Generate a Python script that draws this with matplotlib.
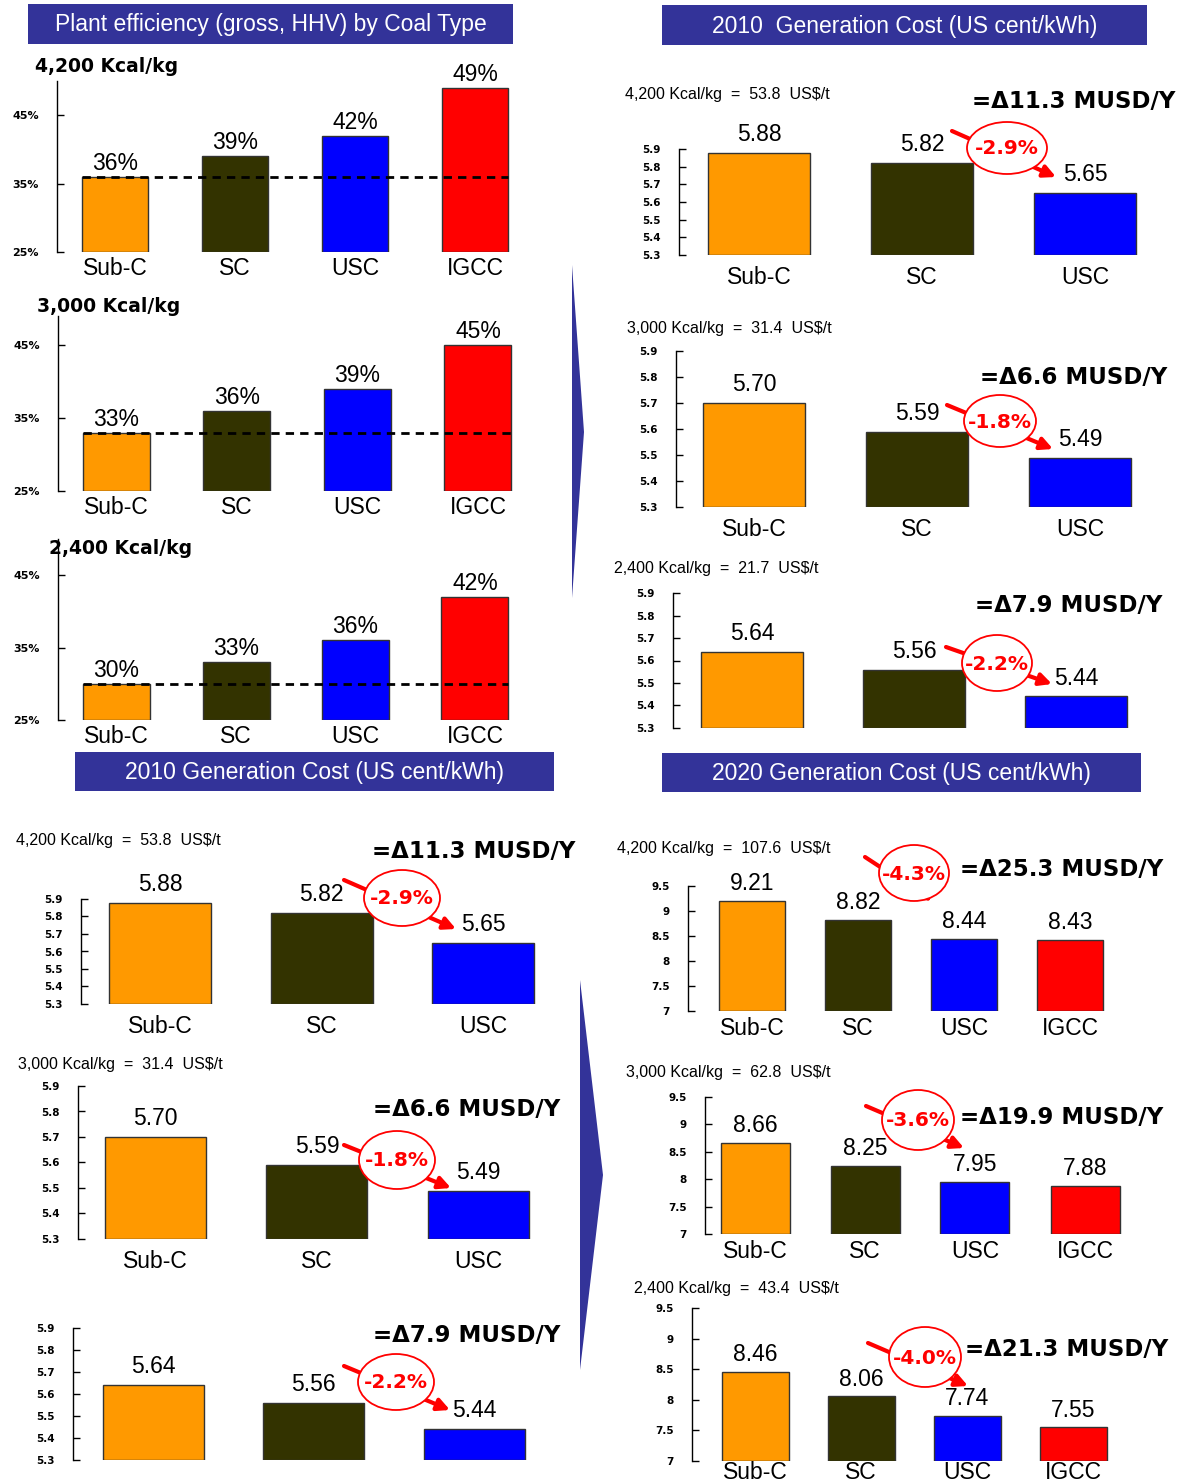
import numpy as np
import matplotlib
matplotlib.use("Agg")
import matplotlib.pyplot as plt
from matplotlib.patches import Rectangle, Ellipse, Polygon

# ---- data ----
coal_types = ["4,200 Kcal/kg", "3,000 Kcal/kg", "2,400 Kcal/kg"]
cats3 = ["Sub-C", "SC", "USC"]
cats4 = ["Sub-C", "SC", "USC", "IGCC"]
efficiency = [[36, 39, 42, 49], [33, 36, 39, 45], [30, 33, 36, 42]]
price_2010 = [53.8, 31.4, 21.7]
price_2020 = [107.6, 62.8, 43.4]
cost_2010 = [[5.88, 5.82, 5.65], [5.70, 5.59, 5.49], [5.64, 5.56, 5.44]]
cost_2020 = [[9.21, 8.82, 8.44, 8.43], [8.66, 8.25, 7.95, 7.88], [8.46, 8.06, 7.74, 7.55]]
cut_2010 = ["-2.9%", "-1.8%", "-2.2%"]
cut_2020 = ["-4.3%", "-3.6%", "-4.0%"]
saving_2010 = [11.3, 6.6, 7.9]
saving_2020 = [25.3, 19.9, 21.3]

colors = ["#FF9900", "#333300", "#0000FF", "#FF0000"]
NAVY = "#333399"
LABEL_FONT = ["Liberation Sans", "DejaVu Sans"]
W, H = 1184, 1483

fig = plt.figure(figsize=(W / 100, H / 100), dpi=100)


def bar_panel(L, R, top, bot, ylim, c0, d, bw, vals, labels, cats, yticks, yticklabels,
              gap=4, catpad=4, tick_fs=7):
    ax = fig.add_axes([L / W, 1 - bot / H, (R - L) / W, (bot - top) / H])
    x = np.arange(len(vals))
    ax.bar(x, np.array(vals) - ylim[0], bottom=ylim[0], width=bw / d,
           color=colors[:len(vals)], edgecolor="#333333", linewidth=1)
    ax.set_xlim((L - c0) / d, (R - c0) / d)
    ax.set_ylim(*ylim)
    for s in ("top", "right", "bottom"):
        ax.spines[s].set_visible(False)
    ax.spines["left"].set_linewidth(1)
    ax.set_yticks(yticks)
    ax.set_yticklabels(yticklabels, fontsize=tick_fs, fontweight="bold", family="DejaVu Sans")
    ax.tick_params(axis="y", direction="in", length=5, width=1, pad=13)
    ax.set_xticks(x)
    if cats:
        ax.set_xticklabels(cats, fontsize=16.5, family=LABEL_FONT)
    else:
        ax.set_xticklabels([])
    ax.tick_params(axis="x", length=0, pad=catpad)
    for i, (v, t) in enumerate(zip(vals, labels)):
        ax.annotate(t, (i, v), xytext=(0, gap), textcoords="offset points",
                    ha="center", va="bottom", fontsize=16.5, family=LABEL_FONT)
    ax.patch.set_alpha(0)
    return ax


# ---- efficiency panels (top left) ----
eff_geo = [  # L, R, top, bottom, ylim, c0, d, bw
    (57, 540, 81, 252, (25, 50), 115, 120, 66),
    (58, 540, 316, 491, (25, 49), 116.5, 120.5, 67),
    (58, 540, 539, 720, (25, 50), 116.5, 119.5, 67),
]
for k, (L, R, t, b, yl, c0, d, bw) in enumerate(eff_geo):
    vals = efficiency[k]
    ax = bar_panel(L, R, t, b, yl, c0, d, bw, vals, [f"{v}%" for v in vals], cats4,
                   [25, 35, 45], ["25%", "35%", "45%"], gap=1.5, catpad=3.5, tick_fs=8)
    ax.hlines(vals[0], -bw / d / 2, 3 + bw / d / 2, colors="black",
              linestyles=(0, (3, 2.2)), linewidth=2, zorder=3)

# ---- 2010 cost panels (top right and bottom left) ----
cost_ticks = [5.3, 5.4, 5.5, 5.6, 5.7, 5.8, 5.9]
cost_ticklabels = [f"{v:.1f}" for v in cost_ticks]
c10_geo = [
    (679, 1145, 149, 255, 759, 163, 102, True),
    (676, 1140, 351, 507, 754, 163, 102, True),
    (673, 1135, 593, 728, 752, 162, 102, False),
    (81, 545, 899, 1004, 160, 161.5, 102, True),
    (78, 540, 1086, 1239, 155.5, 161.5, 101, True),
    (73, 535, 1328, 1460, 153, 160.5, 101, False),
]
for k, (L, R, t, b, c0, d, bw, show) in enumerate(c10_geo):
    vals = cost_2010[k % 3]
    bar_panel(L, R, t, b, (5.3, 5.9), c0, d, bw, vals, [f"{v:.2f}" for v in vals],
              cats3 if show else None, cost_ticks, cost_ticklabels, gap=5, catpad=8, tick_fs=7.5)

# ---- 2020 cost panels (bottom right) ----
c20_ticks = [7, 7.5, 8, 8.5, 9, 9.5]
c20_ticklabels = ["7", "7.5", "8", "8.5", "9", "9.5"]
c20_geo = [  # L, R, top, bottom, c0, d, bw, category pad
    (688, 1130, 886, 1011, 752, 106, 66, 4),
    (705, 1140, 1097, 1234, 755, 110, 69, 4),
    (692, 1130, 1308, 1461, 755, 106, 67, 0),
]
for k, (L, R, t, b, c0, d, bw, cp) in enumerate(c20_geo):
    vals = cost_2020[k]
    bar_panel(L, R, t, b, (7, 9.5), c0, d, bw, vals, [f"{v:.2f}" for v in vals],
              cats4, c20_ticks, c20_ticklabels, gap=4, catpad=cp, tick_fs=7.5)

# ---- overlay: headers, notes, ellipses, arrows ----
ov = fig.add_axes([0, 0, 1, 1])
ov.set_xlim(0, W)
ov.set_ylim(H, 0)
ov.axis("off")

headers = [
    (28, 4, 485, 40, "Plant efficiency (gross, HHV) by Coal Type"),
    (662, 5, 485, 40, "2010  Generation Cost (US cent/kWh)"),
    (75, 752, 479, 39, "2010 Generation Cost (US cent/kWh)"),
    (662, 753, 479, 39, "2020 Generation Cost (US cent/kWh)"),
]
for x0, y0, w, h, txt in headers:
    ov.add_patch(Rectangle((x0, y0), w, h, facecolor=NAVY, edgecolor="none"))
    ov.text(x0 + w / 2, y0 + h / 2 + 1, txt, color="white", fontsize=16.5,
            family=LABEL_FONT, ha="center", va="center")

# coal type titles of efficiency panels
for (x, y), name in zip([(35, 67), (37, 307), (49, 549)], coal_types):
    ov.text(x, y, name, fontsize=13.5, fontweight="bold", family="DejaVu Sans",
            ha="left", va="center")

# price notes
notes = [
    (625, 95, 0, price_2010), (627, 329, 1, price_2010), (614, 568, 2, price_2010),
    (16, 841, 0, price_2010), (18, 1065, 1, price_2010),
    (617, 849, 0, price_2020), (626, 1072, 1, price_2020), (634, 1289, 2, price_2020),
]
for x, y, k, prices in notes:
    ov.text(x, y, f"{coal_types[k]}  =  {prices[k]:.1f}  US$/t", fontsize=11.5,
            family="Liberation Sans", ha="left", va="center")

# savings callouts: ellipse centre, size, arrow start/end, saving text position
callouts = [
    ((1007, 148), (80, 52), (952, 131), (1056, 177), (972, 101), cut_2010[0], saving_2010[0]),
    ((1000, 421), (72, 52), (947, 405), (1053, 449), (980, 377), cut_2010[1], saving_2010[1]),
    ((997, 663), (70, 56), (946, 647), (1052, 684), (975, 606), cut_2010[2], saving_2010[2]),
    ((402, 898), (76, 56), (344, 880), (456, 929), (372, 851), cut_2010[0], saving_2010[0]),
    ((397, 1160), (76, 58), (344, 1145), (451, 1188), (373, 1109), cut_2010[1], saving_2010[1]),
    ((396, 1382), (76, 56), (344, 1366), (450, 1410), (373, 1336), cut_2010[2], saving_2010[2]),
    ((914, 873), (70, 56), (865, 857), (932, 901), (960, 870), cut_2020[0], saving_2020[0]),
    ((918, 1120), (72, 60), (866, 1106), (964, 1148), (960, 1118), cut_2020[1], saving_2020[1]),
    ((925, 1357), (72, 60), (868, 1343), (968, 1386), (965, 1349), cut_2020[2], saving_2020[2]),
]
for (cx, cy), (ew, eh), start, end, (tx, ty), pct, sav in callouts:
    ov.annotate("", xy=end, xytext=start,
                arrowprops=dict(arrowstyle="-|>", color="red", lw=3,
                                mutation_scale=18, shrinkA=0, shrinkB=0))
    ov.add_patch(Ellipse((cx, cy), ew, eh, facecolor="white", edgecolor="red",
                         linewidth=1.3, zorder=4))
    ov.text(cx, cy + 1, pct, color="red", fontsize=14.5, fontweight="bold",
            family="DejaVu Sans", ha="center", va="center", zorder=5)
    ov.text(tx, ty, f"=\u0394{sav:.1f} MUSD/Y", fontsize=16.5, fontweight="bold",
            family="DejaVu Sans", ha="left", va="center")

# big transition arrows between columns
ov.add_patch(Polygon([(572, 265), (584, 432), (572, 598)], closed=True,
                     facecolor=NAVY, edgecolor="none"))
ov.add_patch(Polygon([(580, 980), (603, 1175), (580, 1370)], closed=True,
                     facecolor=NAVY, edgecolor="none"))

fig.savefig("out.png", dpi=100)
